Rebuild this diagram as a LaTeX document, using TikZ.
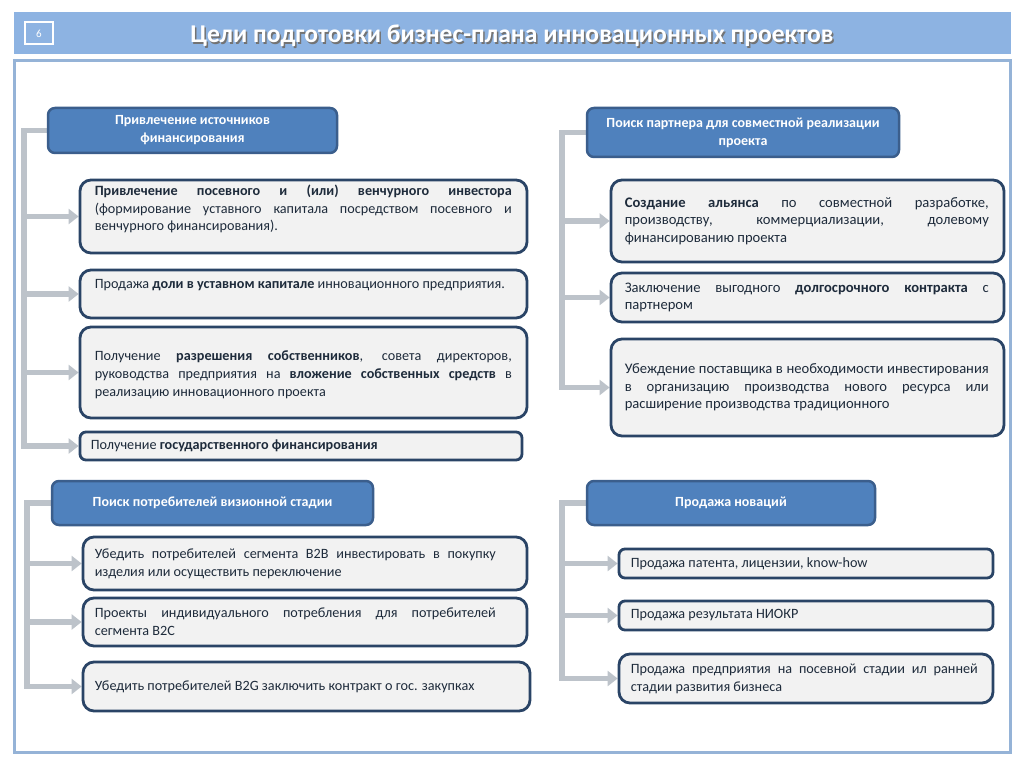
\documentclass[tikz,border=0pt]{standalone}
\usepackage{fontspec}
\setmainfont{Carlito}
\usetikzlibrary{arrows.meta,calc}
\definecolor{hdrbar}{HTML}{8DB3E2}
\definecolor{frameblue}{HTML}{95B3D7}
\definecolor{hfill}{HTML}{4F81BD}
\definecolor{hdraw}{HTML}{3B5E8C}
\definecolor{bfill}{HTML}{F2F2F2}
\definecolor{bdraw}{HTML}{2A4466}
\definecolor{connc}{HTML}{BDC3CA}
\definecolor{txtc}{HTML}{1E2B3B}
\pgfdeclarelayer{bg}
\pgfdeclarelayer{conn}
\pgfsetlayers{bg,conn,main}
\tikzset{
  hbox/.style={rectangle, rounded corners=7pt, fill=hfill, draw=hdraw, line width=2.5pt,
    text=white, font=\bfseries\fontsize{14}{18}\selectfont, align=center, inner sep=0pt},
  ibox/.style={rectangle, rounded corners=11pt, fill=bfill, draw=bdraw, line width=2.8pt, inner sep=0pt},
  sbox/.style={ibox, rounded corners=6pt},
  itxt/.style={anchor=west, text=txtc, font=\fontsize{14.2}{17.8}\selectfont, align=justify, inner sep=0pt},
  rtxt/.style={itxt, font=\fontsize{14.6}{17.6}\selectfont},
  arr/.style={draw=connc, line width=5.5pt, line join=miter, -{Triangle[length=10pt,width=15pt]}},
}
\begin{document}
\begin{tikzpicture}[x=1pt,y=-1pt]
\useasboundingbox (0,0) rectangle (1024,767);
\begin{pgfonlayer}{bg}
\fill[white] (0,0) rectangle (1024,767);
\fill[hdrbar] (14,12) rectangle (1011,54);
\draw[frameblue, line width=3pt, fill=white] (14,61) rectangle (1010,752);
\end{pgfonlayer}
\node[draw=white, line width=2pt, minimum width=28pt, minimum height=22pt, inner sep=0pt,
  text=white, font=\fontsize{11}{11}\selectfont] (num) at (39,33.5) {6};
\node[text=black!55, font=\bfseries\fontsize{25.6}{26}\selectfont] (titles) at (513.5,37.5) {Цели подготовки бизнес-плана инновационных проектов};
\node[text=white, font=\bfseries\fontsize{25.6}{26}\selectfont] (title) at (512,35.5) {Цели подготовки бизнес-плана инновационных проектов};

% ---------- top left
\node[hbox, minimum width=289pt, minimum height=45pt] (h1) at (192.5,130.5) {Привлечение источников\\финансирования};
\node[ibox, minimum width=447pt, minimum height=73pt] (a1) at (303.5,216.5) {};
\node[ibox, minimum width=447pt, minimum height=48pt] (a2) at (303.5,294) {};
\node[ibox, minimum width=447pt, minimum height=91pt] (a3) at (303.5,372.5) {};
\node[sbox, minimum width=442pt, minimum height=28pt] (a4) at (301,446) {};
\node[itxt, text width=417pt] (t1) at ([xshift=16pt,yshift=7.5pt]a1.west) {\textbf{Привлечение посевного и (или) венчурного инвестора} (формирование уставного капитала посредством посевного и венчурного финансирования).};
\node[itxt, text width=417pt] (t2) at ([xshift=16pt,yshift=9pt]a2.west) {Продажа \textbf{доли в уставном капитале} инновационного предприятия.};
\node[itxt, text width=417pt] (t3) at ([xshift=16pt,yshift=-2pt]a3.west) {Получение \textbf{разрешения собственников}, совета директоров, руководства предприятия на \textbf{вложение собственных средств} в реализацию инновационного проекта};
\node[itxt, text width=417pt] (t4) at ([xshift=12pt]a4.west) {Получение \textbf{государственного финансирования}};
\coordinate (s1) at (24,130.5);

% ---------- top right
\node[hbox, minimum width=312pt, minimum height=49pt] (h2) at (743,132.5) {Поиск партнера для совместной реализации\\проекта};
\node[ibox, minimum width=393pt, minimum height=82pt] (b1) at (807.5,221) {};
\node[ibox, minimum width=393pt, minimum height=49pt] (b2) at (807.5,297.5) {};
\node[ibox, minimum width=393pt, minimum height=97pt] (b3) at (807.5,387.5) {};
\node[rtxt, text width=364pt] (u1) at ([xshift=15pt]b1.west) {\textbf{Создание альянса} по совместной разработке,\linebreak производству, коммерциализации, долевому\linebreak финансированию проекта};
\node[rtxt, text width=364pt] (u2) at ([xshift=15pt]b2.west) {Заключение выгодного \textbf{долгосрочного контракта} с\linebreak партнером};
\node[rtxt, text width=364pt] (u3) at ([xshift=15pt]b3.west) {Убеждение поставщика в необходимости инвестирования\linebreak в организацию производства нового ресурса или\linebreak расширение производства традиционного};
\coordinate (s2) at (562,132.5);

% ---------- bottom left
\node[hbox, minimum width=321pt, minimum height=44pt] (h3) at (212.5,503) {Поиск потребителей визионной стадии};
\node[ibox, minimum width=444pt, minimum height=53pt] (c1) at (305,563.5) {};
\node[ibox, minimum width=444pt, minimum height=48pt] (c2) at (305,622) {};
\node[ibox, minimum width=447pt, minimum height=49pt] (c3) at (306.5,686.5) {};
\node[itxt, text width=401pt] (v1) at ([xshift=13pt]c1.west) {Убедить потребителей сегмента B2B инвестировать в покупку изделия или осуществить переключение};
\node[itxt, text width=401pt] (v2) at ([xshift=13pt]c2.west) {Проекты индивидуального потребления для потребителей сегмента B2C};
\node[itxt, text width=401pt] (v3) at ([xshift=13pt]c3.west) {Убедить потребителей B2G заключить контракт о гос. закупках};
\coordinate (s3) at (27,503);

% ---------- bottom right
\node[hbox, minimum width=288pt, minimum height=44pt] (h4) at (731,503) {Продажа новаций};
\node[sbox, minimum width=374pt, minimum height=29pt] (d1) at (806,563.5) {};
\node[sbox, minimum width=374pt, minimum height=29pt] (d2) at (806,615.5) {};
\node[ibox, minimum width=374pt, minimum height=49pt] (d3) at (806,678.5) {};
\node[itxt, text width=347pt] (w1) at ([xshift=13pt]d1.west) {Продажа патента, лицензии, know-how};
\node[itxt, text width=347pt] (w2) at ([xshift=13pt]d2.west) {Продажа результата НИОКР};
\node[itxt, text width=347pt] (w3) at ([xshift=13pt]d3.west) {Продажа предприятия на посевной стадии ил ранней стадии развития бизнеса};
\coordinate (s4) at (562,503);

\begin{pgfonlayer}{conn}
\draw[arr] (h1.west) -- (s1) |- (a4.west);
\draw[arr] (s1 |- a1.west) -- (a1.west);
\draw[arr] (s1 |- a2.west) -- (a2.west);
\draw[arr] (s1 |- a3.west) -- (a3.west);
\draw[arr] (h2.west) -- (s2) |- (b3.west);
\draw[arr] (s2 |- b1.west) -- (b1.west);
\draw[arr] (s2 |- b2.west) -- (b2.west);
\draw[arr] (h3.west) -- (s3) |- (c3.west);
\draw[arr] (s3 |- c1.west) -- (c1.west);
\draw[arr] (s3 |- c2.west) -- (c2.west);
\draw[arr] (h4.west) -- (s4) |- (d3.west);
\draw[arr] (s4 |- d1.west) -- (d1.west);
\draw[arr] (s4 |- d2.west) -- (d2.west);
\end{pgfonlayer}
\end{tikzpicture}
\end{document}
